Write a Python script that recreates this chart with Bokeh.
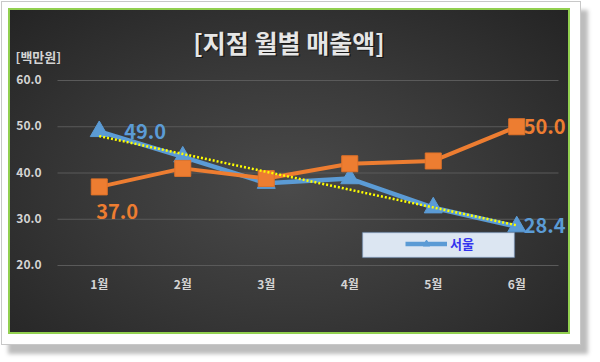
import numpy as np
from bokeh.plotting import figure
from bokeh.models import (Range1d, FixedTicker, Label, BoxAnnotation, Legend, LegendItem)
from bokeh.embed import file_html
from bokeh.resources import INLINE

# ---- data ----
months = ["1월", "2월", "3월", "4월", "5월", "6월"]
seoul = [49.0, 43.5, 37.8, 38.8, 32.5, 28.4]
other = [37.0, 41.0, 38.8, 42.0, 42.6, 50.0]
y_ticks = [20, 30, 40, 50, 60]
title_text = "[지점 월별 매출액]"
unit_text = "[백만원]"
legend_text = "서울"

BLUE = "#5b9bd5"
ORANGE = "#ed7d31"
FONT = "Noto Sans CJK KR"

# ---- layout constants (pixels) ----
W, H = 562, 326          # canvas content size
PLOT_L = 47              # px where category axis starts
PLOT_W = 501             # width of the category area
PLOT_B = 63              # bottom border (x-axis labels)
PLOT_H = 185             # px from y_ticks[0] to y_ticks[-1]
PAD_B = 8                # px of frame below the lowest gridline

xs = list(range(1, len(months) + 1))
ncat = len(months)
px_per_cat = PLOT_W / ncat
x0 = 0.5 - PLOT_L / px_per_cat
x1 = 0.5 + (W - PLOT_L) / px_per_cat
px_per_unit = PLOT_H / (y_ticks[-1] - y_ticks[0])
y0 = y_ticks[0] - PAD_B / px_per_unit
y1 = y0 + (H - PLOT_B) / px_per_unit

p = figure(width=W, height=H, x_range=Range1d(x0, x1), y_range=Range1d(y0, y1),
           output_backend="svg", toolbar_location=None, y_axis_location=None,
           min_border_left=0, min_border_right=0, min_border_top=0,
           min_border_bottom=PLOT_B)
p.border_fill_alpha = 0
p.background_fill_alpha = 0
p.outline_line_color = None
p.grid.grid_line_color = None
p.styles = {
    "position": "relative", "left": "8px", "top": "8px",
    "background": "radial-gradient(ellipse at 50% 55%, #4a4a4a 0%, #3a3a3a 45%, #242424 100%)",
    "border": "2px solid #92d050",
    "box-shadow": "2px 2px 0 8px #ffffff, 2px 2px 0 9px #c8c8c8, 9px 11px 4px 9px #bdbdbd",
}

# x axis
ax = p.xaxis[0]
ax.axis_line_color = None
ax.major_tick_line_color = None
ax.minor_tick_line_color = None
ax.major_tick_out = 0
ax.major_tick_in = 0
ax.major_label_text_color = "#d4d4d4"
ax.major_label_text_font = FONT
ax.major_label_text_font_size = "12px"
ax.major_label_text_font_style = "bold"
ax.major_label_standoff = 1
ax.ticker = FixedTicker(ticks=xs)
ax.major_label_overrides = {x: m for x, m in zip(xs, months)}

# y gridlines + y tick labels
n = len(y_ticks)
p.segment(x0=[0.5] * n, x1=[ncat + 0.5] * n, y0=y_ticks, y1=y_ticks,
          line_color="#5a5a5a", line_width=1)
p.text(x=[0.5] * n, y=y_ticks, text=[f"{t:.1f}" for t in y_ticks], x_offset=-16, y_offset=-1,
       text_align="right", text_baseline="middle", text_color="#d4d4d4",
       text_font={"value": FONT}, text_font_size="12px", text_font_style="bold")

# series
r_bl = p.line(xs, seoul, line_color=BLUE, line_width=4.5)
r_bt = p.scatter(xs, seoul, marker="triangle", size=18, fill_color=BLUE, line_color=BLUE)
p.line(xs, other, line_color=ORANGE, line_width=4)
p.scatter(xs, other, marker="square", size=16, fill_color=ORANGE, line_color="#e07228")

# linear trend of seoul
coef = np.polyfit(xs, seoul, 1)
tx = [xs[0], xs[-1]]
p.line(tx, list(np.polyval(coef, tx)), line_color="#ffff00", line_width=2.5, line_dash="2 2")

# data labels
def dlabel(x, y, color, dx, dy):
    p.add_layout(Label(x=x, y=y, text=f"{y:.1f}", x_offset=dx, y_offset=dy,
                       text_color=color, text_font=FONT, text_font_size="20px",
                       text_font_style="bold", text_align="left", text_baseline="middle"))

dlabel(xs[0], seoul[0], BLUE, 25, 0)
dlabel(xs[0], other[0], ORANGE, -3, -25)
dlabel(xs[-1], other[-1], ORANGE, 7, 0)
dlabel(xs[-1], seoul[-1], BLUE, 7, 1)

# title (with soft shadow) & unit
for dx, dy, col, alpha in [(1.5, -1.5, "#000000", 0.55), (0, 0, "#e6e6e6", 1.0)]:
    p.add_layout(Label(x=(ncat + 1) / 2, y=y_ticks[-1], x_offset=-19 + dx, y_offset=39 + dy,
                       text=title_text, text_color=col, text_alpha=alpha, text_font=FONT,
                       text_font_size="25px", text_font_style="bold",
                       text_align="center", text_baseline="middle"))
p.add_layout(Label(x=0.5, y=y_ticks[-1], x_offset=-42, y_offset=24, text=unit_text,
                   text_color="#d4d4d4", text_font=FONT, text_font_size="13px",
                   text_font_style="bold", text_align="left", text_baseline="middle"))

# legend
p.add_layout(BoxAnnotation(left=352, right=504, bottom=8 + PAD_B, top=33 + PAD_B,
                           left_units="screen", right_units="screen",
                           bottom_units="screen", top_units="screen",
                           fill_color="#dce6f2", fill_alpha=1,
                           line_color="#4f81bd", line_width=1.5))
legend = Legend(items=[LegendItem(label=legend_text, renderers=[r_bl, r_bt])],
                location=(395, 12 + PAD_B), padding=0, margin=0, spacing=0,
                border_line_color=None, background_fill_alpha=0,
                glyph_width=42, glyph_height=17, label_height=17, label_standoff=3,
                label_text_color="#3333ee", label_text_font=FONT,
                label_text_font_size="13px", label_text_font_style="bold")
p.add_layout(legend)

open("out.html", "w").write(file_html(p, INLINE))
